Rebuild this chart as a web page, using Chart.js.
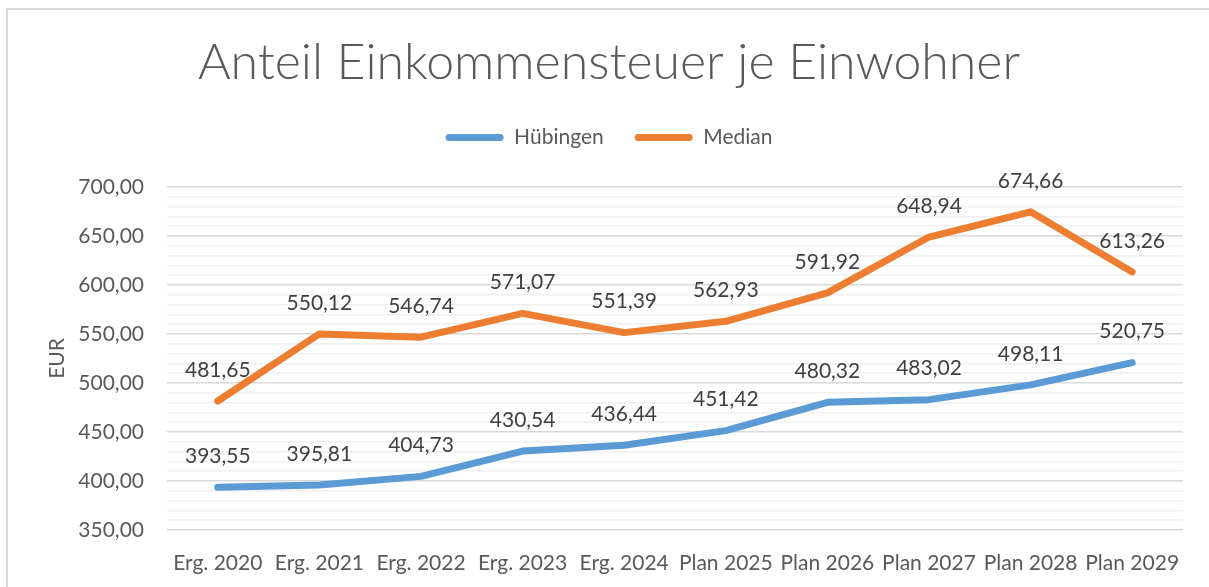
<!DOCTYPE html>
<html>
<head>
<meta charset="utf-8">
<script src="https://cdn.jsdelivr.net/npm/chart.js@4"></script>
<style>
  html, body { margin: 0; padding: 0; background: #fff; }
  #wrap { position: relative; width: 1209px; height: 587px; overflow: hidden; }
  #frame { position: absolute; left: 6px; top: 8px; width: 1300px; height: 700px;
           border-left: 2px solid #d9d9d9; border-top: 2px solid #d9d9d9; }
  #c { position: absolute; left: 0; top: 0; }
</style>
</head>
<body>
<div id="wrap">
  <div id="frame"></div>
  <canvas id="c" width="1209" height="587"></canvas>
</div>
<script>
  // Werte
  const kategorien = ["Erg. 2020", "Erg. 2021", "Erg. 2022", "Erg. 2023", "Erg. 2024",
                      "Plan 2025", "Plan 2026", "Plan 2027", "Plan 2028", "Plan 2029"];
  const huebingen = [393.55, 395.81, 404.73, 430.54, 436.44, 451.42, 480.32, 483.02, 498.11, 520.75];
  const median = [481.65, 550.12, 546.74, 571.07, 551.39, 562.93, 591.92, 648.94, 674.66, 613.26];
  const yMin = 350, yMax = 700, yStep = 10, yMajor = 50;

  const FONT = "Lato, 'Open Sans', sans-serif";
  const BLAU = "#5B9BD5", ORANGE = "#ED7D31";

  const fmt = (v) => v.toFixed(2).replace(".", ",");

  // Datenbeschriftungen über den Punkten
  const datenLabels = {
    id: "datenLabels",
    afterDatasetsDraw(chart) {
      const ctx = chart.ctx;
      ctx.save();
      ctx.font = "21px " + FONT;
      ctx.fillStyle = "#404040";
      ctx.textAlign = "center";
      ctx.textBaseline = "middle";
      chart.data.datasets.forEach((d, i) => {
        chart.getDatasetMeta(i).data.forEach((pt, j) => {
          ctx.fillText(fmt(d.data[j]), pt.x, pt.y - 31);
        });
      });
      ctx.restore();
    },
  };

  function ds(label, data, color) {
    return {
      label, data, borderColor: color, backgroundColor: color,
      borderWidth: 7, pointRadius: 0, tension: 0,
      borderCapStyle: "round", borderJoinStyle: "round",
    };
  }

  new Chart(document.getElementById("c"), {
    type: "line",
    data: { labels: kategorien, datasets: [ds("Hübingen", huebingen, BLAU), ds("Median", median, ORANGE)] },
    plugins: [datenLabels],
    options: {
      responsive: false, animation: false,
      layout: { padding: { left: 35, right: 26, top: 0, bottom: 0 } },
      plugins: {
        title: {
          display: true, text: "Anteil Einkommensteuer je Einwohner",
          color: "#595959", font: { family: FONT, size: 50, weight: 300, lineHeight: 1.2 },
          padding: { top: 33, bottom: 3 },
        },
        // leerer Untertitel als Abstand zwischen Legende und Diagramm
        subtitle: {
          display: true, text: " ", weight: 500,
          font: { size: 1, lineHeight: 1 }, padding: { top: 0, bottom: 28 },
        },
        legend: {
          labels: {
            color: "#595959", font: { family: FONT, size: 21 },
            boxWidth: 58, boxHeight: 7, padding: 31,
            useBorderRadius: true, borderRadius: 3.5,
            generateLabels(chart) {
              return Chart.defaults.plugins.legend.labels.generateLabels(chart)
                .map((l) => Object.assign(l, { lineWidth: 0, fillStyle: l.strokeStyle }));
            },
          },
        },
        tooltip: { enabled: false },
      },
      scales: {
        x: {
          offset: true,
          grid: { display: false }, border: { display: false },
          ticks: { color: "#595959", font: { family: FONT, size: 21 }, padding: 13, maxRotation: 0, autoSkip: false },
          afterFit(s) { s.height = 57; },
        },
        y: {
          min: yMin, max: yMax,
          border: { display: false },
          grid: {
            drawTicks: false,
            color: (c) => (c.tick.value % yMajor === 0 ? "#d9d9d9" : "#f0f0f0"),
            lineWidth: 1.6,
          },
          ticks: {
            stepSize: yStep, autoSkip: false, padding: 23,
            color: "#595959", font: { family: FONT, size: 21 },
            callback: (v) => (v % yMajor === 0 ? fmt(v) : ""),
          },
          title: { display: true, text: "EUR", color: "#595959", font: { family: FONT, size: 21 }, padding: { top: 10, bottom: 0 } },
          afterFit(s) { s.width = 132; },
        },
      },
    },
  });
</script>
</body>
</html>
